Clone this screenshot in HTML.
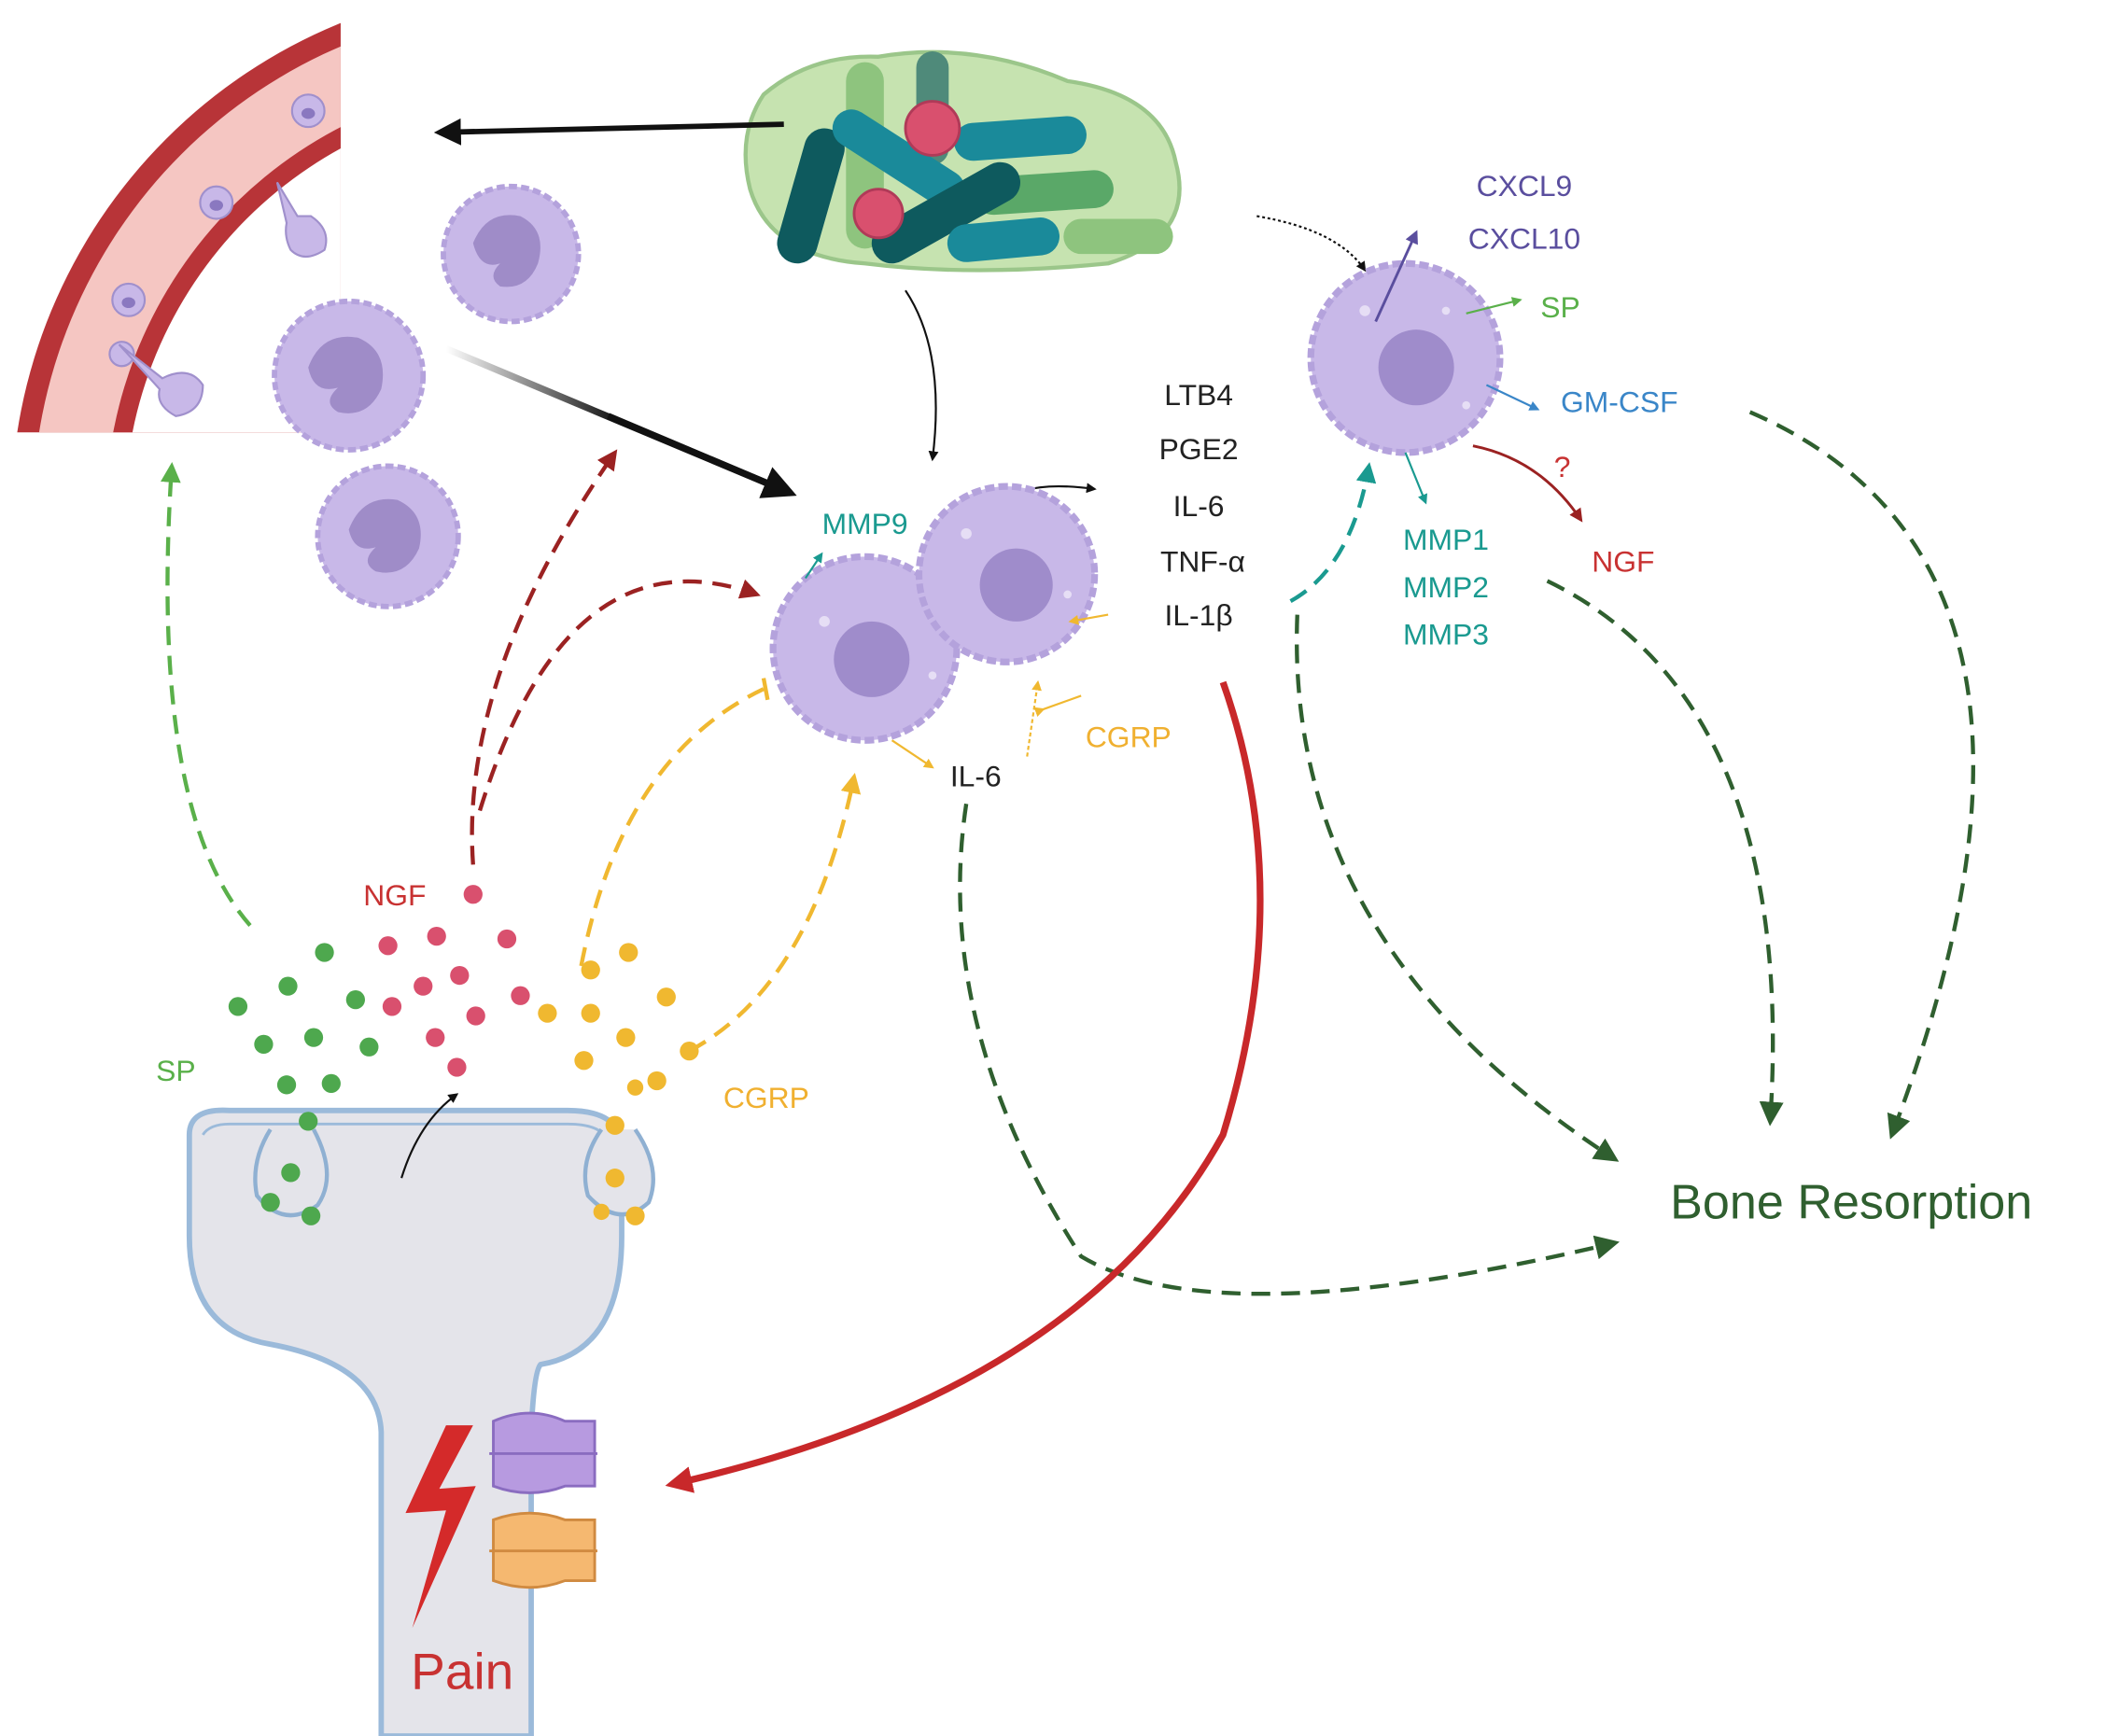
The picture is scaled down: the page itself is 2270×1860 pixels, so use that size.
<!DOCTYPE html>
<html><head><meta charset="utf-8"><style>
html,body{margin:0;padding:0;background:#fff;}
svg{display:block;}
text{font-family:"Liberation Sans",sans-serif;}
</style></head><body>
<svg width="2270" height="1860" viewBox="0 0 1568 1285" xmlns="http://www.w3.org/2000/svg">
<defs>
<marker id="ab" viewBox="0 0 10 10" refX="8" refY="5" markerWidth="5" markerHeight="5" orient="auto"><path d="M0,0L10,5L0,10z" fill="#111"/></marker>
<marker id="ag" viewBox="0 0 10 10" refX="8" refY="5" markerWidth="6" markerHeight="6" orient="auto"><path d="M0,0L10,5L0,10z" fill="#2f5f2f"/></marker>
<marker id="agl" viewBox="0 0 10 10" refX="8" refY="5" markerWidth="5" markerHeight="5" orient="auto"><path d="M0,0L10,5L0,10z" fill="#5ab04a"/></marker>
<marker id="ar" viewBox="0 0 10 10" refX="8" refY="5" markerWidth="5" markerHeight="5" orient="auto"><path d="M0,0L10,5L0,10z" fill="#9b2222"/></marker>
<marker id="ary" viewBox="0 0 10 10" refX="8" refY="5" markerWidth="5" markerHeight="5" orient="auto"><path d="M0,0L10,5L0,10z" fill="#f0b830"/></marker>
<marker id="at" viewBox="0 0 10 10" refX="8" refY="5" markerWidth="5" markerHeight="5" orient="auto"><path d="M0,0L10,5L0,10z" fill="#1a9a90"/></marker>
<marker id="ap" viewBox="0 0 10 10" refX="8" refY="5" markerWidth="5" markerHeight="5" orient="auto"><path d="M0,0L10,5L0,10z" fill="#5a4e9e"/></marker>
<marker id="abl" viewBox="0 0 10 10" refX="8" refY="5" markerWidth="5" markerHeight="5" orient="auto"><path d="M0,0L10,5L0,10z" fill="#3a86c8"/></marker>
<marker id="arr" viewBox="0 0 10 10" refX="6" refY="5" markerWidth="4" markerHeight="4" orient="auto"><path d="M0,0L10,5L0,10z" fill="#c8282a"/></marker>
<linearGradient id="fade" x1="0" y1="0" x2="1" y2="0"><stop offset="0" stop-color="#fff"/><stop offset="0.5" stop-color="#111"/></linearGradient>
<clipPath id="vc"><rect x="0" y="0" width="252" height="320"/></clipPath>
</defs>

<g clip-path="url(#vc)">
<circle cx="400" cy="380" r="392" fill="#b83438"/>
<circle cx="400" cy="380" r="376" fill="#f5c6c2"/>
<circle cx="400" cy="380" r="322" fill="#b83438"/>
<circle cx="400" cy="380" r="308" fill="#fff"/>
<g fill="#c8b8e8" stroke="#a090cc" stroke-width="1.5">
<circle cx="228" cy="82" r="12"/><circle cx="160" cy="150" r="12"/><circle cx="95" cy="222" r="12"/>
<circle cx="90" cy="262" r="9"/>
</g>
<g fill="#8a78c0"><ellipse cx="228" cy="84" rx="5" ry="4"/><ellipse cx="160" cy="152" rx="5" ry="4"/><ellipse cx="95" cy="224" rx="5" ry="4"/></g>
</g>
<g fill="#c8b8e8" stroke="#a090cc" stroke-width="1.5">
<path d="M205,135 L220,160 L230,160 Q245,170 240,185 Q225,195 215,185 Q210,175 212,165z"/>
<path d="M88,255 L120,280 Q140,270 150,285 Q150,305 130,308 Q115,300 118,288z"/>
</g>

<g>
<circle cx="378" cy="188" r="50" fill="#c8b8e8" stroke="#b4a2dc" stroke-width="4" stroke-dasharray="6 3"/>
<path d="M350,180 Q360,155 385,160 Q405,170 398,195 Q390,215 370,212 Q360,205 370,195 Q355,200 350,180z" fill="#9f8cc8"/>
<circle cx="258" cy="278" r="55" fill="#c8b8e8" stroke="#b4a2dc" stroke-width="4" stroke-dasharray="6 3"/>
<path d="M228,272 Q238,245 265,250 Q288,260 282,288 Q272,310 250,305 Q238,298 250,287 Q232,292 228,272z" fill="#9f8cc8"/>
<circle cx="287" cy="397" r="52" fill="#c8b8e8" stroke="#b4a2dc" stroke-width="4" stroke-dasharray="6 3"/>
<path d="M258,392 Q268,366 294,370 Q316,380 310,406 Q300,428 278,423 Q266,416 278,405 Q262,410 258,392z" fill="#9f8cc8"/>
</g>

<path d="M565,70 Q600,40 650,42 Q720,30 790,60 Q860,70 870,120 Q885,175 820,195 Q720,205 640,195 Q570,190 555,140 Q545,100 565,70z" fill="#c6e3b0" stroke="#9bc68a" stroke-width="3"/>
<g stroke-linecap="round" fill="none">
<line x1="640" y1="60" x2="640" y2="170" stroke="#8ec47e" stroke-width="28"/>
<line x1="690" y1="50" x2="690" y2="110" stroke="#4f8a7a" stroke-width="24"/>
<line x1="610" y1="110" x2="590" y2="180" stroke="#0e5a5e" stroke-width="30"/>
<line x1="630" y1="95" x2="700" y2="140" stroke="#1a8a9a" stroke-width="28"/>
<line x1="720" y1="105" x2="790" y2="100" stroke="#1a8a9a" stroke-width="28"/>
<line x1="735" y1="145" x2="810" y2="140" stroke="#5aa868" stroke-width="28"/>
<line x1="660" y1="180" x2="740" y2="135" stroke="#0e5a5e" stroke-width="30"/>
<line x1="715" y1="180" x2="770" y2="175" stroke="#1a8a9a" stroke-width="28"/>
<line x1="800" y1="175" x2="855" y2="175" stroke="#8ec47e" stroke-width="26"/>
</g>
<circle cx="690" cy="95" r="20" fill="#d9506e" stroke="#b03a58" stroke-width="2"/>
<circle cx="650" cy="158" r="18" fill="#d9506e" stroke="#b03a58" stroke-width="2"/>

<line x1="580" y1="92" x2="325" y2="98" stroke="#111" stroke-width="4" marker-end="url(#ab)"/>
<line x1="330" y1="258" x2="585" y2="365" stroke="url(#fade)" stroke-width="5"/>
<line x1="450" y1="308" x2="585" y2="365" stroke="#111" stroke-width="5" marker-end="url(#ab)"/>
<path d="M670,215 Q700,260 690,340" stroke="#111" stroke-width="1.5" fill="none" marker-end="url(#ab)"/>
<path d="M930,160 Q990,170 1010,200" stroke="#111" stroke-width="1.5" fill="none" stroke-dasharray="2 2" marker-end="url(#ab)"/>
<path d="M740,372 Q760,355 810,362" stroke="#111" stroke-width="1.5" fill="none" marker-end="url(#ab)"/>

<g fill="#c8b8e8" stroke="#b4a2dc" stroke-width="5" stroke-dasharray="7 3">
<circle cx="640" cy="480" r="68"/>
<circle cx="745" cy="425" r="65"/>
<circle cx="1040" cy="265" r="70"/>
</g>
<g fill="#9f8ccb"><circle cx="645" cy="488" r="28"/><circle cx="752" cy="433" r="27"/><circle cx="1048" cy="272" r="28"/></g>
<g fill="#e6def5"><circle cx="610" cy="460" r="4"/><circle cx="690" cy="500" r="3"/><circle cx="715" cy="395" r="4"/><circle cx="790" cy="440" r="3"/><circle cx="1010" cy="230" r="4"/><circle cx="1085" cy="300" r="3"/><circle cx="1070" cy="230" r="3"/></g>

<g font-size="22" fill="#222" text-anchor="middle">
<text x="887" y="300">LTB4</text><text x="887" y="340">PGE2</text><text x="887" y="382">IL-6</text><text x="890" y="423">TNF-α</text><text x="887" y="463">IL-1β</text>
<text x="722" y="582">IL-6</text>
</g>
<text x="640" y="395" font-size="22" fill="#1a9a90" text-anchor="middle">MMP9</text>
<text x="1128" y="145" font-size="22" fill="#5a4e9e" text-anchor="middle">CXCL9</text>
<text x="1128" y="184" font-size="22" fill="#5a4e9e" text-anchor="middle">CXCL10</text>
<text x="1140" y="235" font-size="22" fill="#5ab04a">SP</text>
<text x="1155" y="305" font-size="22" fill="#3a86c8">GM-CSF</text>
<text x="1150" y="353" font-size="22" fill="#c83232">?</text>
<text x="1178" y="423" font-size="22" fill="#c83232">NGF</text>
<g font-size="22" fill="#1a9a90" text-anchor="middle"><text x="1070" y="407">MMP1</text><text x="1070" y="442">MMP2</text><text x="1070" y="477">MMP3</text></g>
<text x="835" y="553" font-size="22" fill="#f0b030" text-anchor="middle">CGRP</text>
<text x="1370" y="902" font-size="36" fill="#2f5f2f" text-anchor="middle">Bone Resorption</text>
<text x="292" y="670" font-size="22" fill="#c83232" text-anchor="middle">NGF</text>
<text x="130" y="800" font-size="22" fill="#5ab04a" text-anchor="middle">SP</text>
<text x="567" y="820" font-size="22" fill="#f0b030" text-anchor="middle">CGRP</text>

<line x1="1018" y1="238" x2="1048" y2="172" stroke="#5a4e9e" stroke-width="2" marker-end="url(#ap)"/>
<line x1="1085" y1="232" x2="1125" y2="222" stroke="#5ab04a" stroke-width="1.5" marker-end="url(#agl)"/>
<line x1="1100" y1="285" x2="1138" y2="303" stroke="#3a86c8" stroke-width="1.5" marker-end="url(#abl)"/>
<path d="M1090,330 Q1140,340 1170,385" stroke="#9b2222" stroke-width="2" fill="none" marker-end="url(#ar)"/>
<line x1="1040" y1="335" x2="1055" y2="372" stroke="#1a9a90" stroke-width="1.5" marker-end="url(#at)"/>
<line x1="596" y1="428" x2="608" y2="410" stroke="#1a9a90" stroke-width="1.5" marker-end="url(#at)"/>
<line x1="820" y1="455" x2="792" y2="460" stroke="#f0b830" stroke-width="1.5" marker-end="url(#ary)"/>
<line x1="660" y1="548" x2="690" y2="568" stroke="#f0b830" stroke-width="1.5" marker-end="url(#ary)"/>
<line x1="772" y1="525" x2="800" y2="515" stroke="#f0b830" stroke-width="1.5" marker-start="url(#ary)"/>
<line x1="760" y1="560" x2="768" y2="505" stroke="#f0b830" stroke-width="1.5" marker-end="url(#ary)" stroke-dasharray="3 2"/>

<g fill="none" stroke-width="3" stroke-dasharray="14 8">
<path d="M185,685 Q110,600 127,345" stroke="#5ab04a" marker-end="url(#agl)"/>
<path d="M350,640 Q340,500 455,335" stroke="#9b2222" marker-end="url(#ar)"/>
<path d="M355,600 Q420,390 560,440" stroke="#9b2222" marker-end="url(#ar)"/>
<path d="M430,715 Q460,560 565,510" stroke="#f0b830"/>
<line x1="565" y1="502" x2="568" y2="518" stroke="#f0b830" stroke-dasharray="none"/>
<path d="M510,778 Q600,730 632,575" stroke="#f0b830" marker-end="url(#ary)"/>
<path d="M715,595 Q690,760 800,930 Q900,990 1195,920" stroke="#2f5f2f" marker-end="url(#ag)"/>
<path d="M955,445 Q1000,420 1013,345" stroke="#1a9a90" marker-end="url(#at)"/>
<path d="M960,455 Q950,700 1195,858" stroke="#2f5f2f" marker-end="url(#ag)"/>
<path d="M1145,430 Q1330,520 1310,830" stroke="#2f5f2f" marker-end="url(#ag)"/>
<path d="M1295,305 Q1560,420 1400,840" stroke="#2f5f2f" marker-end="url(#ag)"/>
</g>

<path d="M905,505 Q960,660 905,840 Q800,1030 500,1098" stroke="#c8282a" stroke-width="5" fill="none" marker-end="url(#arr)"/>

<path d="M140,840 Q140,820 170,822 L420,822 Q460,822 460,850 L460,915 Q460,1000 400,1010 Q395,1015 393,1060 L393,1285 L282,1285 L282,1060 Q280,1010 200,995 Q140,985 140,915z" fill="#e4e4ea" stroke="#9bbada" stroke-width="4"/>
<path d="M150,840 Q155,832 170,832 L420,832 Q450,832 450,850" fill="none" stroke="#9bbada" stroke-width="2"/>
<g fill="#e4e4ea" stroke="#8fb0d2" stroke-width="3">
<path d="M200,836 Q185,860 190,885 Q210,910 235,892 Q250,870 232,836"/>
<path d="M445,836 Q428,860 435,885 Q458,910 480,890 Q490,865 470,836"/>
</g>
<path d="M297,872 Q310,830 338,810" stroke="#111" stroke-width="1.5" fill="none" marker-end="url(#ab)"/>

<g fill="#4ea84e">
<circle cx="240" cy="705" r="7"/><circle cx="213" cy="730" r="7"/><circle cx="263" cy="740" r="7"/><circle cx="176" cy="745" r="7"/><circle cx="195" cy="773" r="7"/><circle cx="232" cy="768" r="7"/><circle cx="273" cy="775" r="7"/><circle cx="212" cy="803" r="7"/><circle cx="245" cy="802" r="7"/><circle cx="228" cy="830" r="7"/>
<circle cx="200" cy="890" r="7"/><circle cx="230" cy="900" r="7"/><circle cx="215" cy="868" r="7"/>
</g>
<g fill="#d9506e">
<circle cx="350" cy="662" r="7"/><circle cx="287" cy="700" r="7"/><circle cx="323" cy="693" r="7"/><circle cx="375" cy="695" r="7"/><circle cx="313" cy="730" r="7"/><circle cx="340" cy="722" r="7"/><circle cx="385" cy="737" r="7"/><circle cx="290" cy="745" r="7"/><circle cx="352" cy="752" r="7"/><circle cx="322" cy="768" r="7"/><circle cx="338" cy="790" r="7"/>
</g>
<g fill="#f0b830">
<circle cx="465" cy="705" r="7"/><circle cx="437" cy="718" r="7"/><circle cx="493" cy="738" r="7"/><circle cx="405" cy="750" r="7"/><circle cx="437" cy="750" r="7"/><circle cx="463" cy="768" r="7"/><circle cx="510" cy="778" r="7"/><circle cx="432" cy="785" r="7"/><circle cx="486" cy="800" r="7"/><circle cx="455" cy="833" r="7"/><circle cx="470" cy="805" r="6"/>
<circle cx="455" cy="872" r="7"/><circle cx="470" cy="900" r="7"/><circle cx="445" cy="897" r="6"/>
</g>

<g>
<path d="M365,1052 Q392,1040 418,1052 L440,1052 L440,1100 L418,1100 Q392,1110 365,1100z" fill="#b79ae0" stroke="#8a6cc0" stroke-width="2"/>
<line x1="362" y1="1076" x2="442" y2="1076" stroke="#8a6cc0" stroke-width="2"/>
<path d="M365,1125 Q392,1115 418,1125 L440,1125 L440,1170 L418,1170 Q392,1180 365,1170z" fill="#f5b870" stroke="#d08a40" stroke-width="2"/>
<line x1="362" y1="1148" x2="442" y2="1148" stroke="#d08a40" stroke-width="2"/>
</g>
<path d="M330,1055 L300,1120 L330,1118 L305,1205 L352,1100 L325,1102 L350,1055z" fill="#d42a2a"/>
<text x="342" y="1250" font-size="38" fill="#c83232" text-anchor="middle">Pain</text>
</svg>
</body></html>
